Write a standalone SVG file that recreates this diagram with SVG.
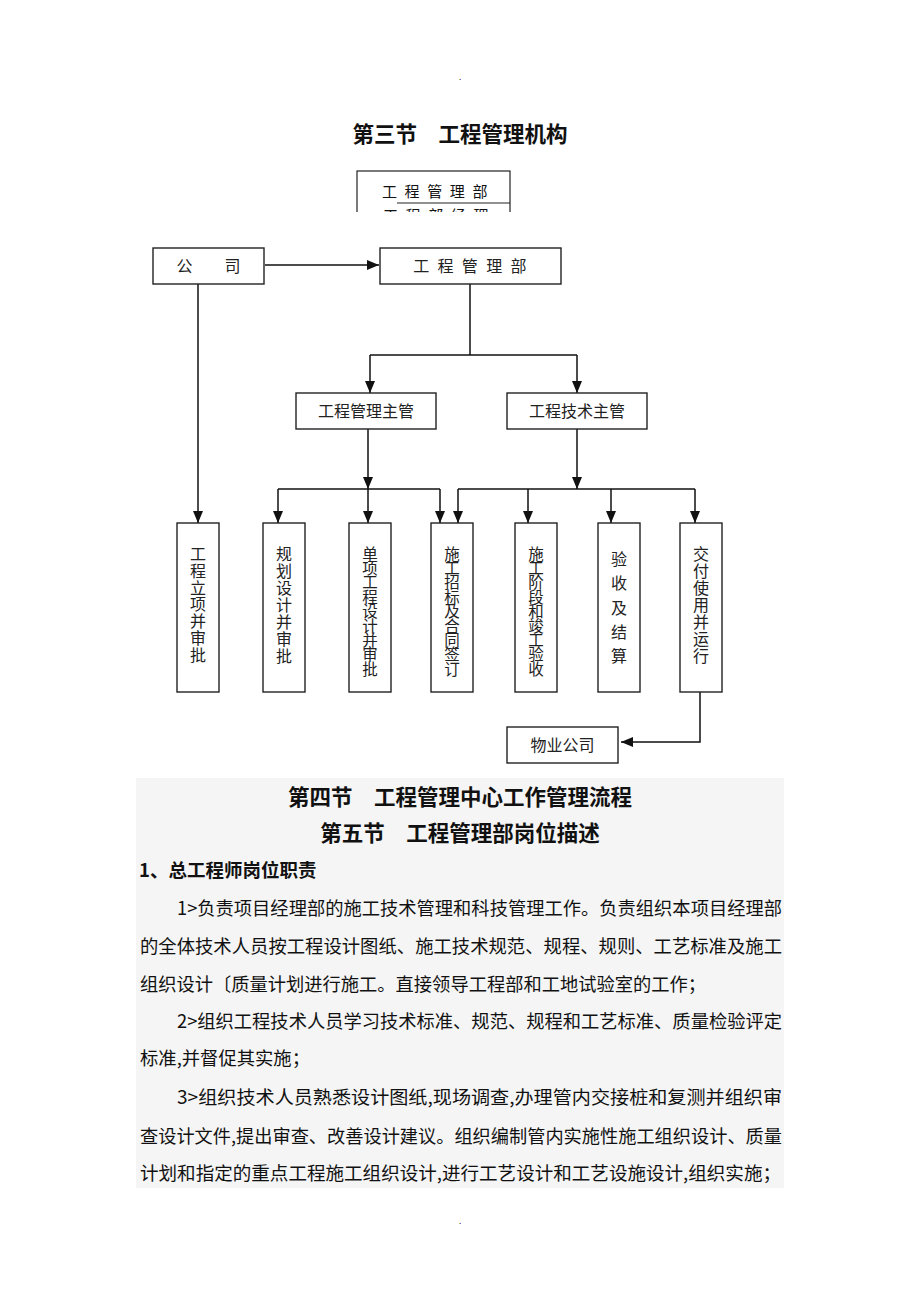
<svg xmlns="http://www.w3.org/2000/svg" width="920" height="1302" viewBox="0 0 920 1302">
<defs>
<style>
.t{font-family:"Noto Sans CJK SC","Noto Sans CJK JP",sans-serif;fill:#111}
.h{font-weight:700;font-size:21.5px}
.b{font-size:18.5px}
.n{font-size:16px;fill:#222}
.v{font-family:"Noto Sans CJK SC","Noto Sans CJK JP",sans-serif;fill:#222;writing-mode:vertical-rl;text-orientation:upright}
.box{fill:#fff;stroke:#222;stroke-width:1.4}
.ln{fill:none;stroke:#111;stroke-width:1.5}
.arr{fill:none;stroke:#111;stroke-width:1.5;marker-end:url(#ah)}
</style>
<marker id="ah" viewBox="0 0 12 10" refX="12" refY="5" markerWidth="12" markerHeight="10" orient="auto" markerUnits="userSpaceOnUse"><path d="M0,0 L12,5 L0,10 z" fill="#111"/></marker>
<clipPath id="clipTop"><rect x="340" y="160" width="200" height="52"/></clipPath>
</defs>
<rect width="920" height="1302" fill="#fff"/>
<rect x="136" y="778" width="648" height="410" fill="#f5f5f5"/>
<text class="t" x="460" y="80" font-size="8" text-anchor="middle">.</text>
<text class="t h" x="460" y="142" text-anchor="middle">第三节　工程管理机构</text>
<g id="clipped-box" clip-path="url(#clipTop)">
<rect x="357" y="171" width="153" height="60" fill="#fff" stroke="#222" stroke-width="1.2"/>
<text class="t" x="382" y="197" font-size="15" letter-spacing="7.6" fill="#222">工程管理部</text>
<line x1="397" y1="203" x2="510" y2="203" stroke="#222" stroke-width="1.2"/>
<text class="t" x="383" y="221" font-size="15" letter-spacing="7.6" fill="#222">工程部经理</text>
</g>
<g id="connectors">
<line class="arr" x1="265" y1="265" x2="379" y2="265"/>
<line class="arr" x1="198" y1="284" x2="198" y2="523"/>
<polyline class="ln" points="470,284 470,355"/>
<line class="ln" x1="370" y1="355" x2="577" y2="355"/>
<line class="arr" x1="370" y1="355" x2="370" y2="393"/>
<line class="arr" x1="577" y1="355" x2="577" y2="393"/>
<line class="arr" x1="368" y1="429" x2="368" y2="489"/>
<line class="ln" x1="278" y1="489" x2="440" y2="489"/>
<line class="arr" x1="278" y1="489" x2="278" y2="523"/>
<line class="arr" x1="368" y1="489" x2="368" y2="523"/>
<line class="arr" x1="440" y1="489" x2="440" y2="523"/>
<line class="arr" x1="577" y1="429" x2="577" y2="489"/>
<line class="ln" x1="458" y1="489" x2="695" y2="489"/>
<line class="arr" x1="458" y1="489" x2="458" y2="523"/>
<line class="arr" x1="528" y1="489" x2="528" y2="523"/>
<line class="arr" x1="611" y1="489" x2="611" y2="523"/>
<line class="arr" x1="695" y1="489" x2="695" y2="523"/>
<polyline class="arr" points="700,692 700,742 621,742"/>
</g>
<g id="n-gongsi">
<rect class="box" x="153" y="248" width="111" height="36"/>
<text class="t n" x="208.5" y="272" text-anchor="middle">公　　司</text>
</g>
<g id="n-gcglb">
<rect class="box" x="380" y="248" width="181" height="36"/>
<text class="t n" x="474" y="272" text-anchor="middle" letter-spacing="8.3">工程管理部</text>
</g>
<g id="n-glzg">
<rect class="box" x="296" y="393" width="140" height="36"/>
<text class="t n" x="366" y="417" text-anchor="middle">工程管理主管</text>
</g>
<g id="n-jszg">
<rect class="box" x="507" y="393" width="140" height="36"/>
<text class="t n" x="577" y="417" text-anchor="middle">工程技术主管</text>
</g>
<g id="n-b1">
<rect class="box" x="177" y="523" width="42" height="169"/>
<text class="v" x="198" y="546" font-size="16" letter-spacing="0.75">工程立项并审批</text>
</g>
<g id="n-b2">
<rect class="box" x="263" y="523" width="42" height="169"/>
<text class="v" x="284" y="546" font-size="16" letter-spacing="1">规划设计并审批</text>
</g>
<g id="n-b3">
<rect class="box" x="349" y="523" width="42" height="169"/>
<text class="v" x="370" y="546" font-size="15.5" letter-spacing="-1.1">单项工程设计并审批</text>
</g>
<g id="n-b4">
<rect class="box" x="431" y="523" width="42" height="169"/>
<text class="v" x="452" y="546" font-size="15.5" letter-spacing="-1.1">施工招标及合同签订</text>
</g>
<g id="n-b5">
<rect class="box" x="515" y="523" width="42" height="169"/>
<text class="v" x="536" y="546" font-size="15.5" letter-spacing="-1.1">施工阶段和竣工验收</text>
</g>
<g id="n-b6">
<rect class="box" x="598" y="523" width="42" height="169"/>
<text class="v" x="619" y="551" font-size="16" letter-spacing="8.25">验收及结算</text>
</g>
<g id="n-b7">
<rect class="box" x="680" y="523" width="42" height="169"/>
<text class="v" x="701" y="546" font-size="16" letter-spacing="1">交付使用并运行</text>
</g>
<g id="n-wygs">
<rect class="box" x="507" y="727" width="111" height="36"/>
<text class="t n" x="562.5" y="751" text-anchor="middle">物业公司</text>
</g>
<text class="t h" x="460" y="805" text-anchor="middle">第四节　工程管理中心工作管理流程</text>
<text class="t h" x="460" y="841" text-anchor="middle">第五节　工程管理部岗位描述</text>
<text class="t" x="139" y="877" style="font-size:18.5px;font-weight:700">1、总工程师岗位职责</text>
<text class="t b" x="177" y="915" textLength="605" lengthAdjust="spacingAndGlyphs">1&gt;负责项目经理部的施工技术管理和科技管理工作。负责组织本项目经理部</text>
<text class="t b" x="140" y="953" textLength="642" lengthAdjust="spacingAndGlyphs">的全体技术人员按工程设计图纸、施工技术规范、规程、规则、工艺标准及施工</text>
<text class="t b" x="140" y="991" textLength="566" lengthAdjust="spacingAndGlyphs">组织设计〔质量计划进行施工。直接领导工程部和工地试验室的工作；</text>
<text class="t b" x="177" y="1028" textLength="605" lengthAdjust="spacingAndGlyphs">2&gt;组织工程技术人员学习技术标准、规范、规程和工艺标准、质量检验评定</text>
<text class="t b" x="140" y="1065" textLength="170" lengthAdjust="spacingAndGlyphs">标准,并督促其实施；</text>
<text class="t b" x="177" y="1104" textLength="605" lengthAdjust="spacingAndGlyphs">3&gt;组织技术人员熟悉设计图纸,现场调查,办理管内交接桩和复测并组织审</text>
<text class="t b" x="140" y="1143" textLength="642" lengthAdjust="spacingAndGlyphs">查设计文件,提出审查、改善设计建议。组织编制管内实施性施工组织设计、质量</text>
<text class="t b" x="140" y="1180" textLength="641" lengthAdjust="spacingAndGlyphs">计划和指定的重点工程施工组织设计,进行工艺设计和工艺设施设计,组织实施；</text>
<text class="t" x="460" y="1224" font-size="8" text-anchor="middle">.</text>
</svg>
